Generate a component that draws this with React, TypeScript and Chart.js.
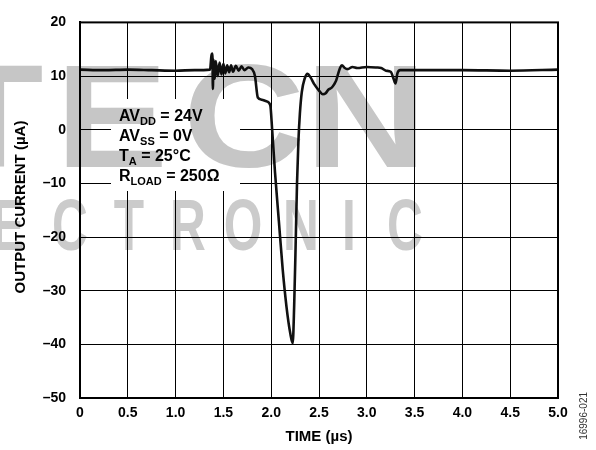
import React, { useEffect, useRef } from "react";
import { Chart, registerables } from "chart.js";

Chart.register(...registerables);

// Time (µs)
const timeUs = [
  0, 0.25, 0.5, 0.75, 1.0, 1.2, 1.36, 1.375, 1.385, 1.39, 1.395, 1.40, 1.41,
  1.42, 1.44, 1.46, 1.48, 1.50, 1.52, 1.54, 1.56, 1.58, 1.60, 1.63, 1.66, 1.69,
  1.72, 1.76, 1.80, 1.83, 1.86, 1.90, 1.95, 1.99, 2.01, 2.04, 2.08, 2.12, 2.16,
  2.20, 2.225, 2.24, 2.255, 2.27, 2.285, 2.30, 2.32, 2.35, 2.38, 2.41, 2.45,
  2.50, 2.54, 2.57, 2.60, 2.63, 2.66, 2.68, 2.70, 2.72, 2.74, 2.77, 2.80, 2.85,
  2.90, 3.00, 3.10, 3.15, 3.20, 3.25, 3.28, 3.30, 3.32, 3.35, 3.50, 4.00, 4.50,
  5.00,
];
// Output current (µA)
const outputCurrent = [
  11.2, 11.1, 11.2, 11.1, 11.0, 11.1, 11.2, 13.8, 14.2, 7.6, 12.5, 13.0, 9.5,
  12.8, 10.0, 12.5, 10.3, 12.3, 10.5, 12.0, 10.7, 12.0, 10.8, 11.9, 11.0, 11.8,
  11.1, 11.6, 11.3, 10.0, 6.0, 5.6, 5.3, 4.6, 0, -8, -17, -26, -33,
  -38, -39.8, -33, -22, -10, -2, 3, 7, 9.5, 10.4, 9.8, 8.5,
  7.3, 6.6, 6.8, 7.5, 7.8, 8.5, 9.2, 10.4, 11.5, 12.0, 11.5, 11.3, 11.7,
  11.5, 11.7, 11.6, 11.5, 11.0, 10.8, 9.5, 8.6, 10.5, 11.1, 11.1, 11.1, 11.0,
  11.2,
];

const xTicks = [0, 0.5, 1.0, 1.5, 2.0, 2.5, 3.0, 3.5, 4.0, 4.5, 5.0];
const yTicks = [-50, -40, -30, -20, -10, 0, 10, 20];

const xTitle = "TIME (µs)";
const yTitle = "OUTPUT CURRENT (µA)";
const figureId = "16996-021";

// annotation lines: [main, subscript, rest]
const noteLines: [string, string, string][] = [
  ["AV", "DD", " = 24V"],
  ["AV", "SS", " = 0V"],
  ["T", "A", " = 25°C"],
  ["R", "LOAD", " = 250Ω"],
];

const wmTop = ["T", "E", "C", "N"];
const wmBottom = ["E", "C", "T", "R", "O", "N", "I", "C"];

const FONT = "'Liberation Sans', Arial, Helvetica, sans-serif";

const overlayPlugin = {
  id: "overlay",
  beforeDatasetsDraw(chart: any) {
    const ctx = chart.ctx;
    ctx.save();
    ctx.fillStyle = "#ffffff";
    ctx.fillRect(111, 99, 129, 92);
    ctx.fillStyle = "#000";
    ctx.textBaseline = "alphabetic";
    ctx.textAlign = "left";
    noteLines.forEach((ln, i) => {
      let x = 119;
      const y = 121 + i * 20;
      ctx.font = `bold 16px ${FONT}`;
      ctx.fillText(ln[0], x, y);
      x += ctx.measureText(ln[0]).width;
      ctx.font = `bold 11px ${FONT}`;
      ctx.fillText(ln[1], x, y + 4);
      x += ctx.measureText(ln[1]).width;
      ctx.font = `bold 16px ${FONT}`;
      ctx.fillText(ln[2], x, y);
    });
    ctx.restore();
  },
  afterDraw(chart: any) {
    const ctx = chart.ctx;
    const a = chart.chartArea;
    ctx.save();
    // frame
    ctx.strokeStyle = "#000";
    ctx.lineWidth = 2;
    ctx.strokeRect(a.left, a.top, a.right - a.left, a.bottom - a.top);
    // titles
    ctx.fillStyle = "#000";
    ctx.font = `bold 15px ${FONT}`;
    ctx.textAlign = "center";
    ctx.textBaseline = "middle";
    ctx.fillText(xTitle, (a.left + a.right) / 2, 437);
    ctx.save();
    ctx.translate(21, 207);
    ctx.rotate(-Math.PI / 2);
    ctx.fillText(yTitle, 0, 0);
    ctx.restore();
    // figure id
    ctx.save();
    ctx.fillStyle = "#333";
    ctx.font = `10px ${FONT}`;
    ctx.translate(584, 392);
    ctx.rotate(-Math.PI / 2);
    ctx.textAlign = "right";
    ctx.textBaseline = "middle";
    ctx.fillText(figureId, 0, 0);
    ctx.restore();
    // watermark
    ctx.globalCompositeOperation = "multiply";
    ctx.fillStyle = "#c6c6c6";
    ctx.textAlign = "center";
    ctx.textBaseline = "alphabetic";
    const topX = [-8, 112, 244, 366];
    ctx.font = `bold 147px ${FONT}`;
    wmTop.forEach((ch, i) => {
      ctx.save();
      ctx.translate(topX[i], 167);
      ctx.scale(1.15, 1);
      ctx.fillText(ch, 0, 0);
      ctx.restore();
    });
    const botX = [8, 70, 129, 188, 243, 301, 349, 405];
    ctx.font = `bold 73px ${FONT}`;
    ctx.fillStyle = "#cbcbcb";
    wmBottom.forEach((ch, i) => {
      ctx.save();
      ctx.translate(botX[i], 250);
      ctx.scale(0.68, 1);
      ctx.fillText(ch, 0, 0);
      ctx.restore();
    });
    ctx.restore();
  },
};

export default function App() {
  const ref = useRef<HTMLCanvasElement | null>(null);
  useEffect(() => {
    if (!ref.current) return;
    const chart = new Chart(ref.current, {
      type: "line",
      data: {
        datasets: [
          {
            data: timeUs.map((t, i) => ({ x: t, y: outputCurrent[i] })),
            borderColor: "#111",
            borderWidth: 2.6,
            pointRadius: 0,
            cubicInterpolationMode: "monotone",
            fill: false,
          },
        ],
      },
      options: {
        animation: false,
        responsive: false,
        devicePixelRatio: 1,
        layout: { padding: { left: 0, right: 38, top: 15, bottom: 0 } },
        plugins: { legend: { display: false }, tooltip: { enabled: false } },
        scales: {
          x: {
            type: "linear",
            min: 0,
            max: 5,
            afterBuildTicks: (s: any) => {
              s.ticks = xTicks.map((v) => ({ value: v }));
            },
            afterFit: (s: any) => {
              s.height = 52;
            },
            ticks: {
              color: "#000",
              font: { family: FONT, size: 14, weight: "bold" },
              padding: 7,
              maxRotation: 0,
              autoSkip: false,
              callback: (v: any) => (v === 0 ? "0" : Number(v).toFixed(1)),
            },
            grid: { color: "#000", lineWidth: 1, drawTicks: false },
            border: { color: "#000", width: 2 },
          },
          y: {
            type: "linear",
            min: -50,
            max: 20,
            afterBuildTicks: (s: any) => {
              s.ticks = yTicks.map((v) => ({ value: v }));
            },
            afterFit: (s: any) => {
              s.width = 80;
            },
            ticks: {
              color: "#000",
              font: { family: FONT, size: 14, weight: "bold" },
              padding: 14,
              autoSkip: false,
              callback: (v: any) =>
                Number(v) < 0 ? "–" + Math.abs(Number(v)) : String(v),
            },
            grid: { color: "#000", lineWidth: 1, drawTicks: false },
            border: { color: "#000", width: 2 },
          },
        },
      },
      plugins: [overlayPlugin],
    } as any);
    return () => chart.destroy();
  }, []);
  return (
    <div style={{ position: "absolute", left: 0, top: 0, width: 596, height: 450, background: "#fff" }}>
      <canvas ref={ref} width={596} height={450} />
    </div>
  );
}
